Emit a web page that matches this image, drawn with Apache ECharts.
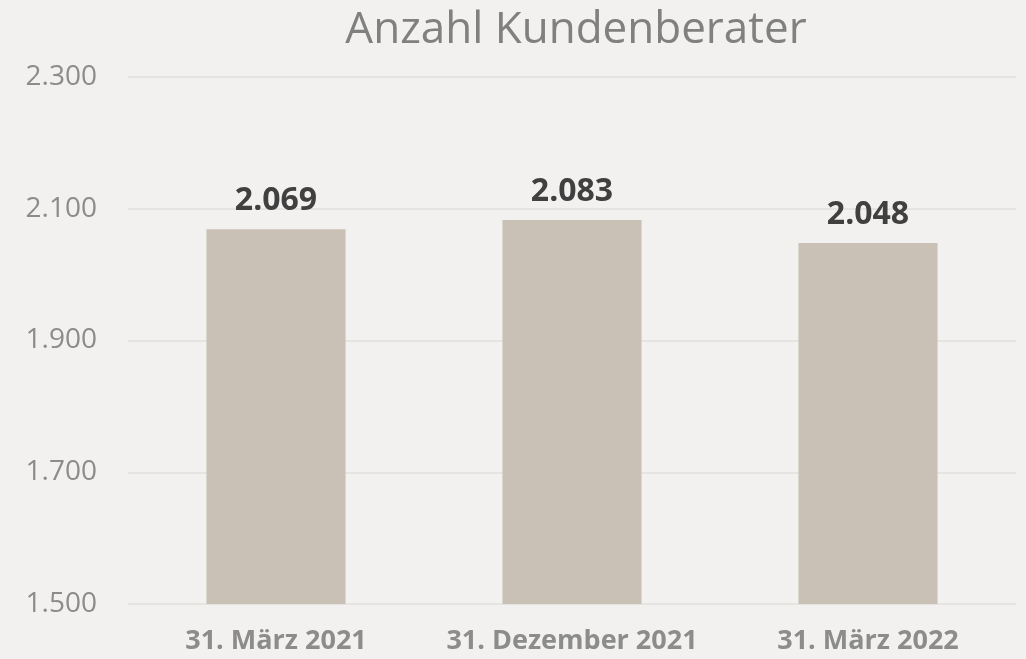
<!DOCTYPE html>
<html>
<head>
<meta charset="utf-8">
<script src="https://cdn.jsdelivr.net/npm/echarts@6/dist/echarts.min.js"></script>
<style>
  html, body { margin: 0; padding: 0; background: #f2f1ef; }
  #chart { width: 1026px; height: 659px; }
</style>
</head>
<body>
<div id="chart"></div>
<script>
const categories = ['31. März 2021', '31. Dezember 2021', '31. März 2022'];
const berater = [2069, 2083, 2048];
const yMin = 1500, yMax = 2300, yStep = 200;

const fmt = v => {
  const s = String(Math.round(v));
  return s.length > 3 ? s.slice(0, s.length - 3) + '.' + s.slice(-3) : s;
};

const myChart = echarts.init(document.getElementById('chart'));
myChart.setOption({
  backgroundColor: '#f2f1ef',
  animation: false,
  textStyle: { fontFamily: 'Open Sans' },
  title: {
    text: 'Anzahl Kundenberater',
    left: 571, top: 3,
    textAlign: 'center',
    textStyle: { color: '#808080', fontSize: 44, fontWeight: 'normal', fontFamily: 'Open Sans' }
  },
  grid: { left: 128, right: 10, top: 77, bottom: 55 },
  xAxis: {
    type: 'category',
    data: categories,
    axisLine: { show: false },
    axisTick: { show: false },
    axisLabel: { color: '#8c8c8c', fontSize: 27, fontWeight: 'bold', margin: 24, interval: 0, hideOverlap: false }
  },
  yAxis: {
    type: 'value',
    min: yMin, max: yMax, interval: yStep,
    axisLine: { show: false },
    axisTick: { show: false },
    splitLine: { lineStyle: { color: '#e1dfdc', width: 1.5 } },
    axisLabel: { color: '#8c8c8c', fontSize: 28, margin: 31, formatter: fmt }
  },
  series: [{
    type: 'bar',
    data: berater,
    barWidth: '47%',
    itemStyle: { color: '#c9c1b5' },
    label: {
      show: true,
      position: 'top',
      distance: 12,
      color: '#404040',
      fontSize: 32,
      fontWeight: 'bold',
      formatter: p => fmt(p.value)
    }
  }]
});
</script>
</body>
</html>
